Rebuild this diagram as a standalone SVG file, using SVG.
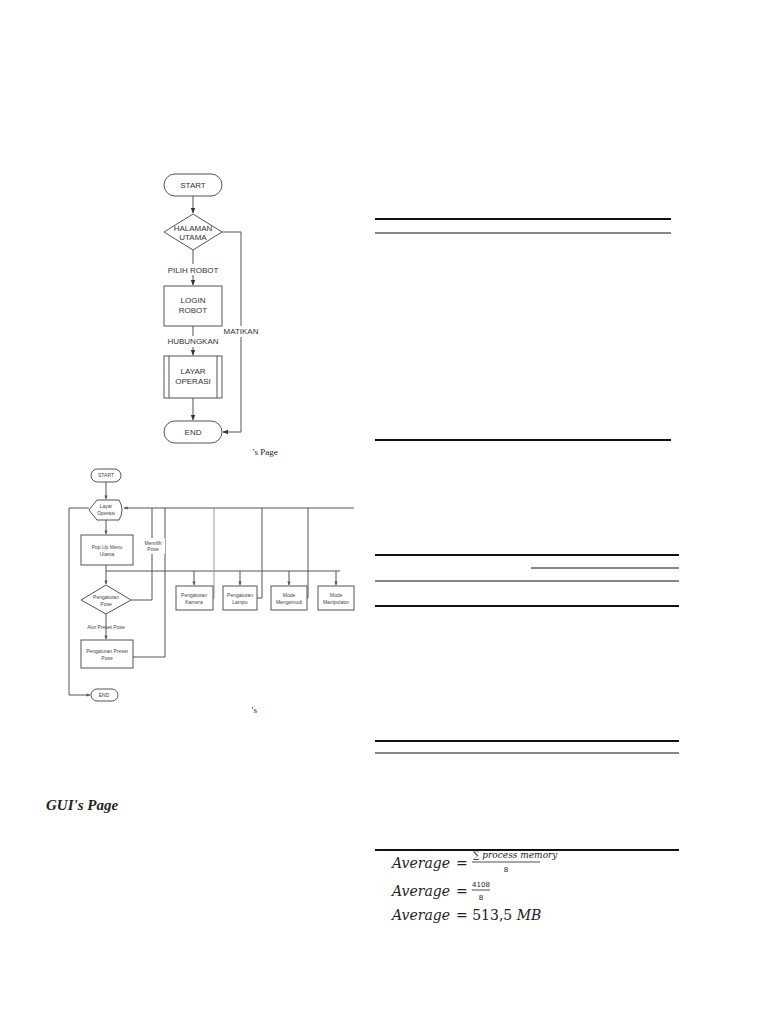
<svg xmlns="http://www.w3.org/2000/svg" width="768" height="1024" viewBox="0 0 768 1024">
<style>
.s{fill:#fff;stroke:#555;stroke-width:1}
.c{fill:none;stroke:#555;stroke-width:1}
.g{fill:none;stroke:#999;stroke-width:1}
.t{font-family:"Liberation Sans",Arial,sans-serif;font-size:8px;fill:#333;text-anchor:middle}
.u{font-family:"Liberation Sans",Arial,sans-serif;font-size:5px;fill:#444;text-anchor:middle}
.m{font-family:"DejaVu Serif",serif;font-style:italic;font-size:14px;fill:#222}
.n{font-family:"DejaVu Serif",serif;font-style:normal;font-size:14px;fill:#222}
.f{font-family:"DejaVu Sans",sans-serif;font-size:7px;fill:#222;text-anchor:middle}
</style>
<defs>
<marker id="a" viewBox="0 0 10 10" refX="9" refY="5" markerWidth="6" markerHeight="6" orient="auto"><path d="M0,1 L10,5 L0,9 z" fill="#333"/></marker>
<marker id="b" viewBox="0 0 10 10" refX="9" refY="5" markerWidth="4" markerHeight="4" orient="auto"><path d="M0,1 L10,5 L0,9 z" fill="#555"/></marker>
</defs>
<rect width="768" height="1024" fill="#fff"/>
<g id="connectors1">
<path class="c" d="M193,196 V213" marker-end="url(#a)"/>
<path class="c" d="M193,250 V285" marker-end="url(#a)"/>
<path class="c" d="M193,326 V355" marker-end="url(#a)"/>
<path class="c" d="M193,398 V420" marker-end="url(#a)"/>
<path class="c" d="M222,232 H241 V432 H223" marker-end="url(#a)"/>
<rect x="160" y="264" width="66" height="11" fill="#fff"/>
<text class="t" x="193" y="273">PILIH ROBOT</text>
<rect x="160" y="336" width="66" height="11" fill="#fff"/>
<text class="t" x="193" y="344">HUBUNGKAN</text>
<rect x="222" y="326" width="40" height="11" fill="#fff"/>
<text class="t" x="241" y="334">MATIKAN</text>
</g>
<g id="start1"><rect class="s" x="164" y="174" width="58" height="22" rx="11"/><text class="t" x="193" y="188">START</text></g>
<g id="halaman"><path class="s" d="M193,214 L222,232 L193,250 L164,232 z"/><text class="t" x="193" y="231">HALAMAN</text><text class="t" x="193" y="240">UTAMA</text></g>
<g id="login"><rect class="s" x="164" y="286" width="58" height="40"/><text class="t" x="193" y="303">LOGIN</text><text class="t" x="193" y="313">ROBOT</text></g>
<g id="layar"><rect class="s" x="164" y="356" width="58" height="42"/><path class="c" d="M169,356 V398 M217,356 V398"/><text class="t" x="193" y="374">LAYAR</text><text class="t" x="193" y="384">OPERASI</text></g>
<g id="end1"><rect class="s" x="164" y="421" width="58" height="22" rx="11"/><text class="t" x="193" y="435">END</text></g>
<text x="252" y="455" font-family="Liberation Serif,serif" font-size="9" fill="#222">’s Page</text>

<g id="connectors2">
<path class="c" d="M106,482 V499" marker-end="url(#b)"/>
<path class="c" d="M106,520 V534" marker-end="url(#b)"/>
<path class="c" d="M106,565 V584" marker-end="url(#b)"/>
<path class="c" d="M106,614 V639" marker-end="url(#b)"/>
<path class="c" d="M106,571 H340"/>
<path class="c" d="M194,571 V585" marker-end="url(#b)"/>
<path class="c" d="M240,571 V585" marker-end="url(#b)"/>
<path class="c" d="M289,571 V585" marker-end="url(#b)"/>
<path class="c" d="M336,571 V585" marker-end="url(#b)"/>
<path class="c" d="M354,508 H124" marker-end="url(#b)"/>
<path class="c" d="M89,508 H69 V695 H90" marker-end="url(#b)"/>
<path class="c" d="M131,600 H152 V508"/>
<path class="c" d="M133,657 H165 V508"/>
<path class="g" d="M213,598 H214 V508"/>
<path class="c" d="M257,598 H262 V508"/>
<path class="c" d="M307,598 H308 V508"/>
<rect x="141" y="538" width="24" height="16" fill="#fff"/>
<text class="u" x="153" y="545">Memilih</text><text class="u" x="153" y="551">Pose</text>
<text class="u" x="106" y="629">Alur Preset Pose</text>
</g>
<g id="start2"><rect class="s" x="91" y="469" width="30" height="13" rx="6.5"/><text class="u" x="106" y="477">START</text></g>
<g id="layar2"><path class="s" d="M97,500 H119 Q125,510 119,520 H97 L89,510 z"/><text class="u" x="106" y="508">Layar</text><text class="u" x="106" y="515">Operasi</text></g>
<g id="popup"><rect class="s" x="81" y="535" width="52" height="30"/><text class="u" x="107" y="549">Pop Up Menu</text><text class="u" x="107" y="556">Utama</text></g>
<g id="pose"><path class="s" d="M106,585 L131,600 L106,614 L81,600 z"/><text class="u" x="106" y="599">Pengaturan</text><text class="u" x="106" y="606">Pose</text></g>
<g id="preset"><rect class="s" x="81" y="640" width="52" height="28"/><text class="u" x="107" y="653">Pengaturan Preset</text><text class="u" x="107" y="660">Pose</text></g>
<g id="kamera"><rect class="s" x="176" y="586" width="37" height="24"/><text class="u" x="194" y="597">Pengaturan</text><text class="u" x="194" y="604">Kamera</text></g>
<g id="lampu"><rect class="s" x="223" y="586" width="34" height="24"/><text class="u" x="240" y="597">Pengaturan</text><text class="u" x="240" y="604">Lampu</text></g>
<g id="mengemudi"><rect class="s" x="271" y="586" width="36" height="24"/><text class="u" x="289" y="597">Mode</text><text class="u" x="289" y="604">Mengemudi</text></g>
<g id="manipulator"><rect class="s" x="318" y="586" width="36" height="24"/><text class="u" x="336" y="597">Mode</text><text class="u" x="336" y="604">Manipulator</text></g>
<g id="end2"><rect class="s" x="91" y="689" width="27" height="12" rx="6"/><text class="u" x="104" y="697">END</text></g>
<text x="251" y="713" font-family="Liberation Serif,serif" font-size="9" fill="#222">’s</text>

<text x="46" y="810" font-family="Liberation Serif,serif" font-weight="bold" font-style="italic" font-size="15" fill="#222">GUI's Page</text>

<g id="tables" stroke="#111">
<line x1="375" y1="219" x2="671" y2="219" stroke-width="2"/>
<line x1="375" y1="233" x2="671" y2="233" stroke-width="1"/>
<line x1="375" y1="440" x2="671" y2="440" stroke-width="2"/>
<line x1="375" y1="555" x2="679" y2="555" stroke-width="2"/>
<line x1="531" y1="568" x2="679" y2="568" stroke-width="1"/>
<line x1="375" y1="581" x2="679" y2="581" stroke-width="1"/>
<line x1="375" y1="606" x2="679" y2="606" stroke-width="2"/>
<line x1="375" y1="741" x2="679" y2="741" stroke-width="2"/>
<line x1="375" y1="753" x2="679" y2="753" stroke-width="1"/>
<line x1="375" y1="850" x2="679" y2="850" stroke-width="2"/>
</g>
<g id="formula">
<text class="m" x="392" y="868">Average</text><text class="n" x="456" y="868">=</text>
<text x="473" y="858" font-family="DejaVu Serif,serif" font-style="italic" font-size="9" fill="#222">∑ process memory</text>
<line x1="472" y1="862" x2="540" y2="862" stroke="#222" stroke-width="0.8"/>
<text class="f" x="506" y="872">8</text>
<text class="m" x="392" y="896">Average</text><text class="n" x="456" y="896">=</text>
<text class="f" x="481" y="887">4108</text>
<line x1="472" y1="890" x2="490" y2="890" stroke="#222" stroke-width="0.8"/>
<text class="f" x="481" y="900">8</text>
<text class="m" x="392" y="920">Average</text><text class="n" x="456" y="920">= 513,5 <tspan style="font-style:italic">MB</tspan></text>
</g>
</svg>
